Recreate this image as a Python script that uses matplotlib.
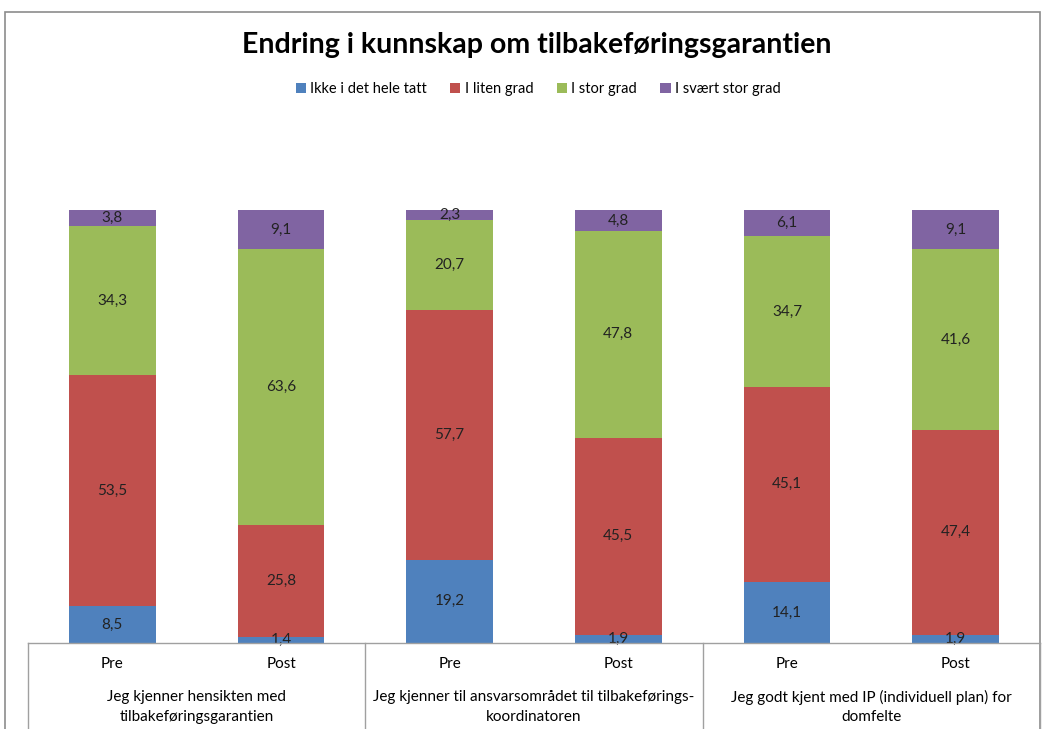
import matplotlib.pyplot as plt
from matplotlib.patches import Rectangle
from matplotlib.lines import Line2D

plt.rcParams['font.family'] = ['Lato', 'DejaVu Sans']

title = 'Endring i kunnskap om tilbakeføringsgarantien'
series = ['Ikke i det hele tatt', 'I liten grad', 'I stor grad', 'I svært stor grad']
colors = ['#4F81BD', '#C0504D', '#9BBB59', '#8064A2']
bar_labels = ['Pre', 'Post', 'Pre', 'Post', 'Pre', 'Post']
groups = ['Jeg kjenner hensikten med\ntilbakeføringsgarantien',
          'Jeg kjenner til ansvarsområdet til tilbakeførings-\nkoordinatoren',
          'Jeg godt kjent med IP (individuell plan) for\ndomfelte']

ikke = [8.5, 1.4, 19.2, 1.9, 14.1, 1.9]
liten = [53.5, 25.8, 57.7, 45.5, 45.1, 47.4]
stor = [34.3, 63.6, 20.7, 47.8, 34.7, 41.6]
svaert = [3.8, 9.1, 2.3, 4.8, 6.1, 9.1]

values = [ikke, liten, stor, svaert]
totals = [sum(v[i] for v in values) for i in range(len(bar_labels))]

W, H = 1043, 729
fig = plt.figure(figsize=(W / 100, H / 100), dpi=100)
ax = fig.add_axes([28 / W, (H - 643) / H, 1012 / W, (643 - 210) / H])

x = list(range(len(bar_labels)))
bottom = [0.0] * len(x)
for vals, name, col in zip(values, series, colors):
    pct = [v / t * 100 for v, t in zip(vals, totals)]
    ax.bar(x, pct, 0.515, bottom=bottom, color=col, label=name)
    for i in x:
        ax.text(i, bottom[i] + pct[i] / 2, f'{vals[i]:.1f}'.replace('.', ','),
                ha='center', va='center', fontsize=11, color='#222222')
    bottom = [b + p for b, p in zip(bottom, pct)]

ax.set_xlim(-0.5, len(x) - 0.5)
ax.set_ylim(0, 100)
ax.axis('off')

# category table below the bars
line_col = '#A0A0A0'
y_top = (H - 643) / H
for k in range(4):
    xf = (28 + k * 1012 / 3) / W
    fig.add_artist(Line2D([xf, xf], [0, y_top], color=line_col, lw=1))
fig.add_artist(Line2D([28 / W, 1040 / W], [y_top, y_top], color=line_col, lw=1))

for i, lab in enumerate(bar_labels):
    ax.text(i, -0.049, lab, transform=ax.get_xaxis_transform(),
            ha='center', va='center', fontsize=11)
for g, lab in enumerate(groups):
    ax.text(2 * g + 0.5, -0.148, lab, transform=ax.get_xaxis_transform(),
            ha='center', va='center', fontsize=11, linespacing=1.5)

# outer chart frame
fig.add_artist(Rectangle((5 / W, -0.05), 1035 / W, (H - 12) / H + 0.05,
                         fill=False, edgecolor='#8C8C8C', lw=1.2))

fig.text(0.515, (H - 45) / H, title, ha='center', va='center',
         fontsize=20.5, fontweight='bold')
fig.legend(loc='center', bbox_to_anchor=(0.516, (H - 89) / H), ncol=4,
           frameon=False, fontsize=10.5, handlelength=0.7, handleheight=0.7,
           handletextpad=0.3, columnspacing=1.6)

fig.savefig('out.png', dpi=100)
